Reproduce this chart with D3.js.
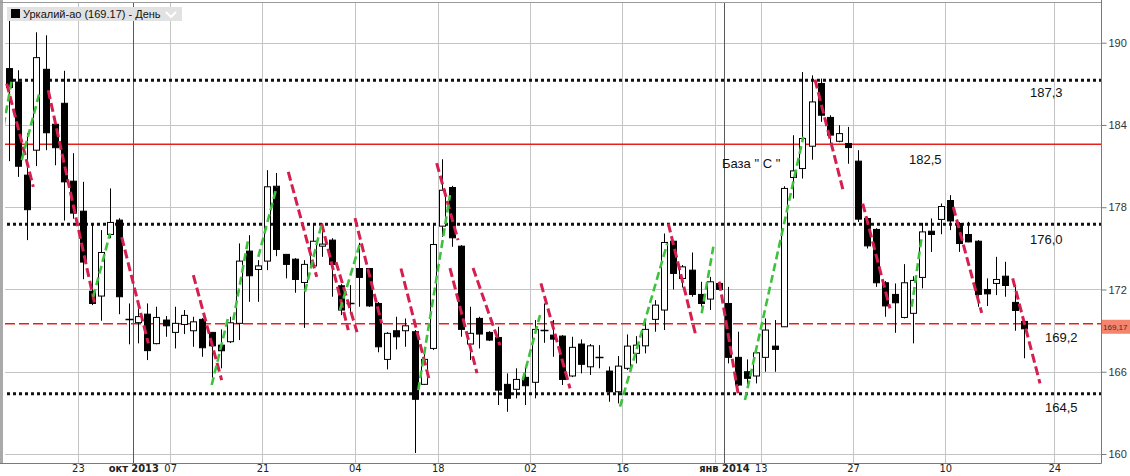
<!DOCTYPE html>
<html><head><meta charset="utf-8">
<script src="https://cdn.jsdelivr.net/npm/d3@7"></script>
<style>body{margin:0;background:#fff;overflow:hidden}svg{display:block}</style>
</head><body><svg id="c" width="1130" height="476"></svg>
<script>
// ---------- data ----------
const opens  = [188.11,187.13,180.34,182.16,188.06,184.05,185.58,179.9,177.71,171.88,171.52,176.01,177.06,169.84,169.58,170.2,168.05,169.77,168.87,169.45,168.99,169.82,168.87,167.94,168.19,169.53,174.8,173.46,174.07,179.53,174.56,174.21,172.51,173.72,175.16,175.6,172.27,170.98,173.53,173.53,170.98,166.9,168.99,168.99,168.92,165.08,167.7,176.62,179.44,175.16,168.02,169.89,168.87,168.5,165.08,164.72,165.59,165.23,169.04,168.67,168.6,165.69,168.02,166.36,167.09,166.05,164.54,166.25,167.34,167.89,169.82,170.5,175.52,172.8,173.41,171.64,171.3,172.44,170.98,167.05,166.0,165.69,167.05,167.87,169.28,180.17,180.82,182.45,187.02,184.55,182.81,182.65,181.36,177.18,176.38,172.49,171.64,169.96,170.26,172.88,176.25,177.11,178.49,176.81,176.01,175.52,172.0,172.44,172.97,171.06,169.67];
const highs  = [192.24,187.99,183.4,190.76,190.54,184.49,187.95,181.94,179.85,176.74,176.33,179.37,177.2,170.98,170.62,170.98,170.74,170.06,170.74,170.5,170.01,169.91,168.89,169.09,170.01,175.36,175.96,174.14,180.7,180.5,174.58,174.29,174.14,176.81,176.81,175.74,172.39,172.32,175.4,173.56,171.08,168.89,170.01,169.89,169.04,167.58,176.74,181.5,179.56,175.23,170.74,170.01,168.96,169.28,165.88,166.25,166.38,169.77,170.98,169.77,168.67,168.55,168.36,168.02,167.94,166.38,167.14,168.72,168.6,169.77,171.22,176.08,175.6,173.78,174.7,172.56,172.92,172.56,172.19,168.92,166.9,167.82,169.89,169.77,179.53,183.25,187.86,187.62,187.38,184.71,183.98,183.86,182.16,177.27,176.47,172.61,172.44,173.85,172.97,176.86,177.18,178.27,178.88,176.91,176.93,175.6,172.81,174.38,174.02,172.19,169.77];
const lows   = [181.36,180.21,175.6,181.0,182.16,181.06,177.02,177.16,172.75,170.86,169.72,175.74,170.2,168.0,168.07,166.85,168.0,168.55,167.7,168.75,167.82,167.09,165.27,166.25,168.09,168.31,171.1,171.1,173.41,174.43,172.81,171.76,169.2,173.56,174.38,171.47,170.13,170.37,170.74,170.74,167.42,166.17,167.63,167.82,160.07,165.03,167.58,175.84,175.11,168.55,166.85,167.7,168.24,163.57,163.08,164.06,163.57,164.06,168.11,167.09,165.03,165.61,165.88,165.76,166.25,163.81,163.69,166.12,166.61,167.34,168.92,169.04,172.0,172.15,171.47,170.74,170.5,171.95,166.61,164.96,165.1,165.15,166.0,166.0,169.26,178.64,180.09,181.47,184.23,182.53,182.74,181.17,176.93,174.99,172.19,170.01,168.84,169.89,168.07,172.08,174.74,176.03,176.33,174.74,175.45,170.74,170.79,171.59,171.47,168.99,166.98];
const closes = [186.73,180.99,177.82,188.91,183.43,182.34,179.85,177.57,174.0,170.98,174.7,176.89,171.47,169.84,170.02,167.54,169.96,169.35,169.53,170.11,169.64,167.75,167.89,167.53,169.57,174.07,173.0,173.72,179.49,174.92,173.83,172.73,173.83,175.52,175.31,173.83,170.5,170.98,172.88,170.8,167.82,168.8,168.55,169.35,163.99,166.9,175.28,179.24,175.77,169.09,168.8,168.75,168.31,164.66,164.06,165.44,164.98,169.09,169.04,168.38,165.44,167.78,166.54,167.89,167.09,164.54,166.41,167.87,167.94,169.09,170.86,175.43,173.17,173.65,171.64,170.98,172.56,172.0,167.05,165.03,165.52,167.38,169.04,167.63,179.37,180.65,183.01,185.68,184.71,183.26,183.37,182.35,177.13,175.18,172.49,170.8,171.03,172.49,172.66,176.2,176.01,178.05,177.0,175.35,175.47,171.64,171.68,172.73,172.29,170.47,169.13];

// x-axis (trading-day index of each labelled grid line)
const tickDays   = [8, 14, 18, 28, 38, 47, 57, 67, 77, 78, 82, 92, 102, 113.8];
const tickLabels = ["23","окт 2013","07","21","04","18","02","16","","янв 2014","13","27","10","24"];
const monthTicks = [14, 78];
// y-axis
const priceTicks = [160, 166, 172, 178, 184, 190];

// horizontal levels
const dottedLevels = [187.26, 176.76, 164.4];
const solidLevel   = 182.6;
const dashedLevel  = 169.5;
const levelTexts   = ["187,3", "182,5", "176,0", "169,2", "164,5", "База \" С \""];
const lastPriceLabel = "169,17";
const titleText = "Уркалий-ао (169.17) - День";

// trend lines [day1, price1, day2, price2]
const downLines = [
 [-0.21,187.02, 2.67,179.48],
 [4.29,186.53, 9.35,170.86],
 [12.25,175.82, 15.13,168.07],
 [20.01,173.05, 23.08,165.39],
 [30.3,180.58, 33.38,172.92],
 [33.92,176.81, 36.8,169.04],
 [35.47,174.0, 37.75,168.89],
 [37.53,177.2, 40.42,169.53],
 [42.51,173.53, 45.58,165.39],
 [46.38,181.21, 48.69,175.6],
 [47.82,173.56, 50.75,165.9],
 [50.32,173.56, 53.24,167.94],
 [57.68,172.44, 60.83,164.79],
 [71.48,176.81, 74.48,168.6],
 [77.01,172.56, 79.07,164.3],
 [87.38,187.31, 90.44,179.19],
 [92.55,178.27, 95.5,170.62],
 [102.36,178.02, 105.44,170.3],
 [108.8,172.81, 111.76,165.15]
];
const upLines = [
 [-0.76,183.13, 0.33,187.26],
 [1.41,181.43, 3.32,186.29],
 [9.17,171.47, 10.98,176.09],
 [22.0,165.03, 23.8,170.01],
 [24.34,169.77, 25.97,175.72],
 [27.05,174.38, 29.04,179.48],
 [32.11,171.83, 33.92,176.81],
 [35.9,170.5, 38.07,175.36],
 [44.39,164.66, 47.82,178.88],
 [55.7,165.39, 57.58,170.13],
 [66.25,163.45, 71.37,175.36],
 [75.1,170.26, 76.36,175.11],
 [79.79,163.94, 86.11,183.13],
 [97.86,170.74, 98.94,175.84]
];

// ---------- drawing ----------
const L = 5, R = 1101, T = 3, B = 463;
const svg = d3.select("#c");
const x = d3.scaleLinear().domain([0, 110]).range([8.68, 1023.76]);
const y = d3.scaleLinear().domain([160, 190]).range([454, 42.7]);

svg.append("defs").append("clipPath").attr("id","plot")
  .append("rect").attr("x",L).attr("y",T).attr("width",R-L).attr("height",B-T);

const grid = svg.append("g").attr("clip-path","url(#plot)");
grid.selectAll("line.h").data(priceTicks).join("line")
  .attr("x1",L).attr("x2",R)
  .attr("y1",d=>Math.round(y(d))+0.5).attr("y2",d=>Math.round(y(d))+0.5)
  .attr("stroke","#c4c4c4").attr("stroke-width",1);
grid.selectAll("line.v").data(tickDays).join("line")
  .attr("x1",d=>Math.round(x(d-0.5))+0.5).attr("x2",d=>Math.round(x(d-0.5))+0.5)
  .attr("y1",T).attr("y2",B)
  .attr("stroke",d=>monthTicks.includes(d)?"#5a5a5a":"#c4c4c4").attr("stroke-width",1);

const ann = svg.append("g").attr("clip-path","url(#plot)");
ann.selectAll("line.dot").data(dottedLevels).join("line")
  .attr("x1",L+2).attr("x2",R).attr("y1",d=>y(d)).attr("y2",d=>y(d))
  .attr("stroke","#111").attr("stroke-width",3).attr("stroke-dasharray","3,3");
ann.append("line").attr("x1",L).attr("x2",R).attr("y1",y(solidLevel)).attr("y2",y(solidLevel))
  .attr("stroke","#e8201c").attr("stroke-width",1.5);
ann.append("line").attr("x1",L).attr("x2",R).attr("y1",y(dashedLevel)).attr("y2",y(dashedLevel))
  .attr("stroke","#e8201c").attr("stroke-width",1.5).attr("stroke-dasharray","10,4");

// candles
const days = d3.range(opens.length);
const cg = svg.append("g").attr("clip-path","url(#plot)");
const cx = i => Math.round(x(i));
cg.selectAll("line.wick").data(days).join("line")
  .attr("x1",i=>cx(i)+0.5).attr("x2",i=>cx(i)+0.5)
  .attr("y1",i=>y(highs[i])).attr("y2",i=>y(lows[i]))
  .attr("stroke","#000").attr("stroke-width",1);
cg.selectAll("rect.body").data(days.filter(i=>opens[i]!==closes[i])).join("rect")
  .attr("x",i=>cx(i)-3+0.5).attr("width",6)
  .attr("y",i=>y(Math.max(opens[i],closes[i])))
  .attr("height",i=>Math.max(1,Math.abs(y(opens[i])-y(closes[i]))))
  .attr("fill",i=>closes[i]>opens[i]?"#fff":"#000")
  .attr("stroke","#000").attr("stroke-width",1);
cg.selectAll("line.doji").data(days.filter(i=>opens[i]===closes[i])).join("line")
  .attr("x1",i=>cx(i)-3.5).attr("x2",i=>cx(i)+4.5)
  .attr("y1",i=>Math.round(y(opens[i]))+0.5).attr("y2",i=>Math.round(y(opens[i]))+0.5)
  .attr("stroke","#000").attr("stroke-width",1.5);

// trend lines
const tl = svg.append("g").attr("clip-path","url(#plot)");
tl.selectAll("line.dn").data(downLines).join("line")
  .attr("x1",d=>x(d[0])).attr("y1",d=>y(d[1])).attr("x2",d=>x(d[2])).attr("y2",d=>y(d[3]))
  .attr("stroke","#d41f4f").attr("stroke-width",3).attr("stroke-dasharray","9,4");
tl.selectAll("line.up").data(upLines).join("line")
  .attr("x1",d=>x(d[0])).attr("y1",d=>y(d[1])).attr("x2",d=>x(d[2])).attr("y2",d=>y(d[3]))
  .attr("stroke","#3ec23e").attr("stroke-width",2.6).attr("stroke-dasharray","8,4");

// level labels
const labelPos = [[1030,97],[909,164],[1030,244],[1045,342],[1045,412],[722,168]];
ann.selectAll("text.lv").data(levelTexts).join("text")
  .attr("x",(d,i)=>labelPos[i][0]).attr("y",(d,i)=>labelPos[i][1])
  .attr("font-family","Liberation Sans, Arial, sans-serif").attr("font-size",13)
  .attr("fill","#111").text(d=>d);

// frame
svg.append("rect").attr("x",0).attr("y",0).attr("width",3).attr("height",B).attr("fill","#a9a9a9");
svg.append("line").attr("x1",0).attr("x2",R).attr("y1",2.5).attr("y2",2.5).attr("stroke","#9a9a9a");
svg.append("line").attr("x1",0).attr("x2",R+0.5).attr("y1",B+0.5).attr("y2",B+0.5).attr("stroke","#7a7a7a");

// right axis
const ya = svg.append("g").attr("transform",`translate(${R+0.5},0)`)
  .call(d3.axisRight(y).tickValues(priceTicks).tickSize(5).tickPadding(2).tickFormat(d3.format("d")));
ya.select(".domain").attr("d",`M0,0V${B+0.5}`).attr("stroke","#7a7a7a");
ya.selectAll(".tick line").attr("stroke","#7a7a7a");
ya.selectAll(".tick text").attr("font-family","Liberation Sans, Arial, sans-serif").attr("font-size",11).attr("fill","#333");

// last price marker
const lp = svg.append("g");
lp.append("rect").attr("x",R+1).attr("y",y(dashedLevel)-4).attr("width",29).attr("height",14).attr("fill","#f4846c");
lp.append("text").attr("x",R+2).attr("y",y(dashedLevel)+6.5).attr("font-family","Liberation Sans, Arial, sans-serif")
  .attr("font-size",8).attr("fill","#333").text(lastPriceLabel);

// bottom axis labels
const xa = svg.append("g").attr("transform",`translate(0,${B})`)
  .call(d3.axisBottom(x).tickValues(tickDays.map(d=>d-0.5)).tickSize(0).tickPadding(1)
        .tickFormat((d,i)=>tickLabels[i]));
xa.select(".domain").remove();
xa.selectAll(".tick text").attr("font-family","Liberation Sans Narrow, DejaVu Sans Condensed, Arial, sans-serif")
  .attr("font-size",11).attr("fill","#222")
  .attr("font-weight",(d,i)=>monthTicks.includes(tickDays[i])?"bold":"normal");

// title box
const tg = svg.append("g");
tg.append("rect").attr("x",7).attr("y",7).attr("width",175).attr("height",14).attr("fill","#e2e2e2");
tg.append("rect").attr("x",11).attr("y",9).attr("width",9).attr("height",9).attr("fill","#000");
tg.append("text").attr("x",23).attr("y",18).attr("font-family","Liberation Sans, Arial, sans-serif")
  .attr("font-size",11).attr("fill","#111").text(titleText);
tg.append("path").attr("d","M166,12 L171,17 L176,12").attr("fill","none").attr("stroke","#fff").attr("stroke-width",2);
</script>
</body></html>
